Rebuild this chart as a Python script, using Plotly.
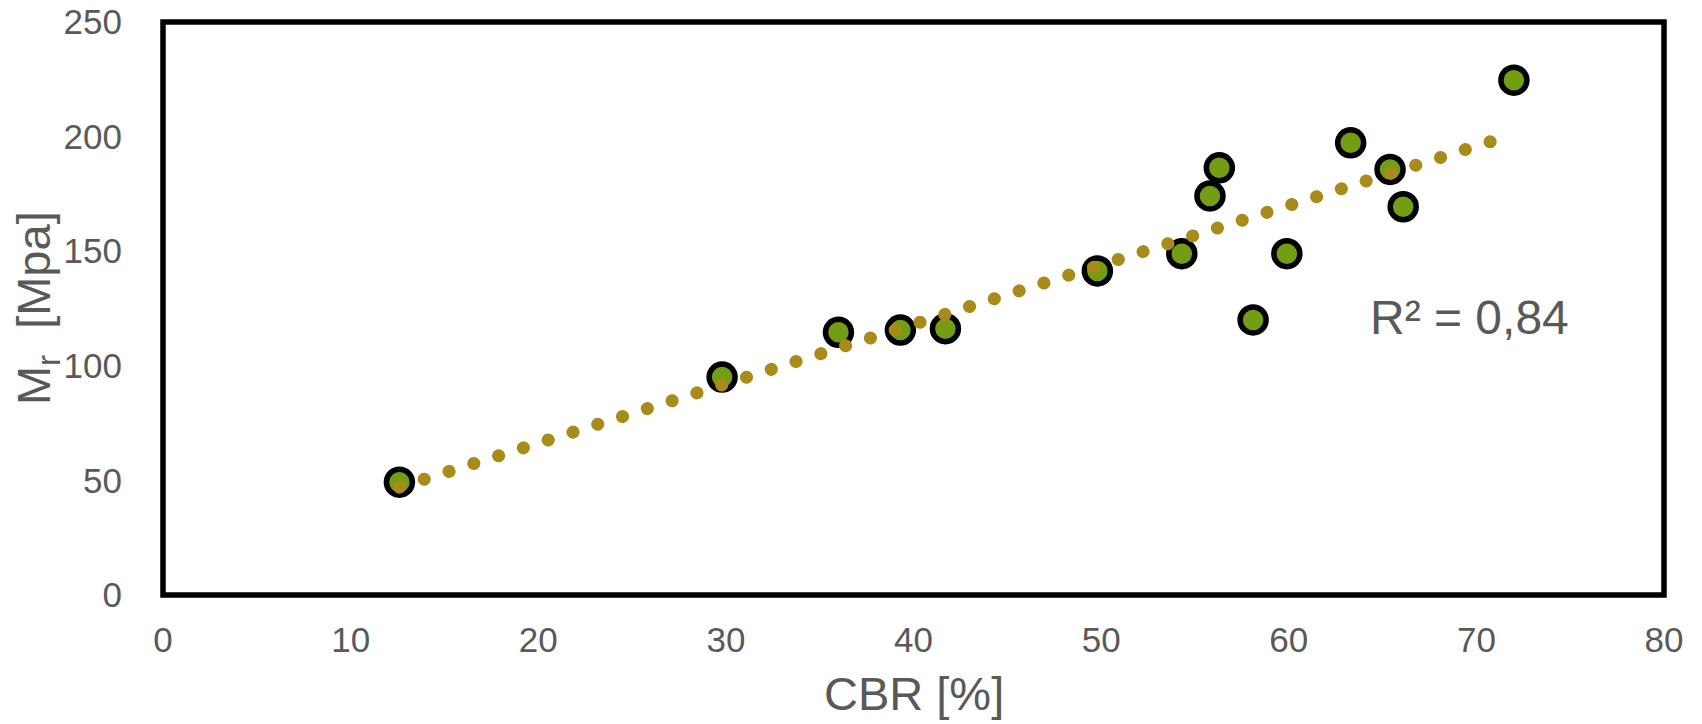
import numpy as np
import plotly.graph_objects as go

# Data
cbr = [12.6, 29.8, 36.0, 39.3, 41.7, 49.8, 54.3, 55.8, 56.3, 58.1, 59.9, 63.3, 65.4, 66.1, 72.0]
mr = [49.2, 95.1, 114.6, 115.6, 116.2, 141.4, 148.9, 174.1, 186.4, 120.0, 148.9, 197.3, 185.7, 169.4, 224.6]

x_ticks = [0, 10, 20, 30, 40, 50, 60, 70, 80]
y_ticks = [0, 50, 100, 150, 200, 250]

r2_label = "R² = 0,84"
x_title = "CBR [%]"
y_title = "M<sub>r</sub>  [Mpa]"

# Linear trendline (least squares) as in the original spreadsheet chart
slope, intercept = np.polyfit(cbr, mr, 1)
trend_x = [min(cbr), max(cbr)]
trend_y = [slope * v + intercept for v in trend_x]

TEXT = "#595959"
FONT = "Liberation Sans, Arial, sans-serif"

W, H = 1702, 724
L, R, T, B = 162.5, 37.5, 22, 129
PW, PH = W - L - R, H - T - B

fig = go.Figure()
fig.add_trace(go.Scatter(
    x=cbr, y=mr, mode="markers",
    marker=dict(size=26, color="#739E14", line=dict(color="black", width=5.5)),
    showlegend=False, hoverinfo="x+y",
))
fig.add_trace(go.Scatter(
    x=trend_x, y=trend_y, mode="lines",
    line=dict(color="#A98B1A", width=13, dash="0.1px,25.9px"),
    showlegend=False, hoverinfo="skip",
))

fig.add_annotation(
    x=64.2, y=121, xref="x", yref="y", text=r2_label,
    showarrow=False, xanchor="left", yanchor="middle",
    font=dict(family=FONT, size=48, color=TEXT),
)

# Axis titles
fig.add_annotation(
    x=0.5, y=-(693 - (H - B)) / PH, xref="paper", yref="paper", text=x_title,
    showarrow=False, xanchor="center", yanchor="middle",
    font=dict(family=FONT, size=47, color=TEXT),
)
fig.add_annotation(
    x=(36 - L) / PW, y=0.5, xref="paper", yref="paper", text=y_title,
    showarrow=False, xanchor="center", yanchor="middle", textangle=-90,
    font=dict(family=FONT, size=47, color=TEXT),
)

# Plot frame
fig.add_shape(type="rect", xref="paper", yref="paper", x0=0, x1=1, y0=0, y1=1,
              line=dict(color="black", width=5.5), layer="above")

fig.update_layout(
    width=W, height=H,
    margin=dict(l=L, r=R, t=T, b=B, pad=0, autoexpand=False),
    paper_bgcolor="white", plot_bgcolor="white",
    font=dict(family=FONT, color=TEXT),
    xaxis=dict(
        range=[0, 80], tickvals=x_ticks, ticktext=[str(v) for v in x_ticks],
        showgrid=False, zeroline=False, showline=False, automargin=False,
        ticks="", ticklabelstandoff=21,
        tickfont=dict(family=FONT, size=35, color=TEXT),
    ),
    yaxis=dict(
        range=[0, 250], tickvals=y_ticks, ticktext=[str(v) for v in y_ticks],
        showgrid=False, zeroline=False, showline=False, automargin=False,
        ticks="", ticklabelstandoff=40,
        tickfont=dict(family=FONT, size=35, color=TEXT),
    ),
)

post = """
document.body.style.margin = '0';
document.body.style.padding = '0';
var gd = document.getElementById('{plot_id}');
function roundDots(){
  gd.querySelectorAll('.scatterlayer .trace path.js-line').forEach(function(p){
    p.style.strokeLinecap = 'round';
  });
}
roundDots();
gd.on('plotly_afterplot', roundDots);
"""
fig.write_html("out.html", post_script=post, config={"displayModeBar": False})
